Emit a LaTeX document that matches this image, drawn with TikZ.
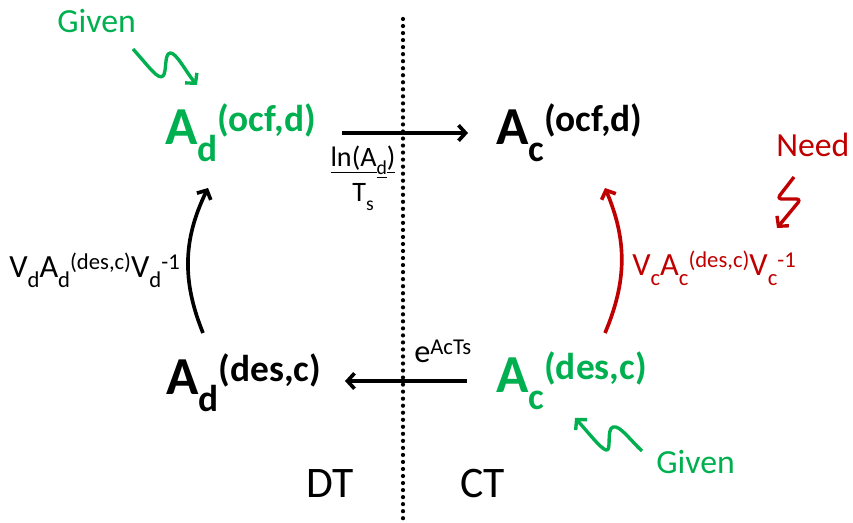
\documentclass[tikz,border=0pt]{standalone}
\usepackage{fontspec}
\setmainfont{Carlito}
\usetikzlibrary{arrows.meta,calc}
\definecolor{givengreen}{HTML}{00B050}
\definecolor{needred}{HTML}{C00000}
\newcommand{\subtxt}[1]{\raisebox{-0.3em}{\scalebox{0.7}{#1}}}
\newcommand{\suptxt}[1]{\raisebox{0.25em}{\scalebox{0.7}{#1}}}

\begin{document}
\begin{tikzpicture}[
  x=0.025cm, y=-0.025cm,
  mat/.style={inner sep=0pt, anchor=base west, font=\fontsize{38}{40}\selectfont\bfseries},
  lbl/.style={inner sep=0pt, anchor=base west, font=\fontsize{23}{28}\selectfont},
  note/.style={inner sep=0pt, anchor=base west, font=\fontsize{24}{28}\selectfont},
  side/.style={inner sep=0pt, anchor=base west, font=\fontsize{31}{34}\selectfont},
  map/.style={line width=2.6pt, -{Straight Barb[length=5pt,width=11pt]}},
  bolt/.style={line width=2.4pt, line join=round, -{Straight Barb[length=5pt,width=11pt]}}
]
\useasboundingbox (0,0) rectangle (853,523);

% DT | CT divider
\draw[line width=3pt, line cap=round, dash pattern=on 0pt off 5pt] (403,19) -- (403,523);

\node[mat, givengreen] (tl) at (165,145) {A\subtxt{d}\suptxt{(ocf,d)}};
\node[mat] (tr) at (496,145) {A\subtxt{c}\suptxt{(ocf,d)}};
\node[mat] (bl) at (166,395) {A\subtxt{d}\suptxt{(des,c)}};
\node[mat, givengreen] (br) at (496,393) {A\subtxt{c}\suptxt{(des,c)}};

\node[lbl] (vd) at (9,278) {V\subtxt{d}A\subtxt{d}\suptxt{(des,c)}V\subtxt{d}\suptxt{-1}};
\node[lbl, needred] (vc) at (632,276) {V\subtxt{c}A\subtxt{c}\suptxt{(des,c)}V\subtxt{c}\suptxt{-1}};
\node[lbl] (ex) at (414,363) {e\suptxt{AcTs}};
\node[inner sep=0pt, align=center, font=\fontsize{20}{25}\selectfont] (ln) at (363,178)
  {\underline{ln(A}\underline{\subtxt{d}}\underline{)}\\T\subtxt{s}};

\node[note, givengreen] (giv1) at (57,33) {Given};
\node[note, givengreen] (giv2) at (656,473) {Given};
\node[note, needred] (need) at (776,157) {Need};

\node[side] (dt) at (306,497) {DT};
\node[side] (ct) at (460,497) {CT};

\draw[map] ($(tl.base west)+(177,-12)$) -- ($(tr.base west)+(-28,-12)$);
\draw[map] ($(br.base west)+(-29,-12)$) -- ($(bl.base west)+(179,-14)$);
\draw[map] ($(bl.base west)+(37,-62)$) to[bend left=24] ($(tl.base west)+(43,43)$);
\draw[map, needred] ($(br.base west)+(109,-60)$) to[bend right=23] ($(tr.base west)+(109,43)$);

% pointers
\draw[bolt, givengreen] (133,49) .. controls (150,68) and (158,80) .. (163,76)
  .. controls (167,72) and (164,54) .. (170,53) .. controls (176,52) and (186,72) .. (197,85);
\draw[bolt, givengreen] (642,451) .. controls (630,440) and (620,425) .. (613,427)
  .. controls (606,429) and (612,452) .. (606,450) .. controls (600,448) and (588,432) .. (575,418);
\draw[bolt, needred, rounded corners=3pt] (794,177) -- (777,199) -- (801,199) -- (777,228);
\end{tikzpicture}
\end{document}
